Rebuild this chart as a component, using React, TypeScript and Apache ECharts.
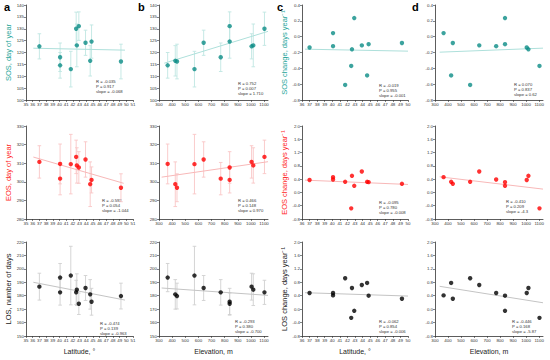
import React, { useEffect, useRef } from 'react';
import * as echarts from 'echarts';

// Station data (11 stations)
const latitude = [37.0, 40.1, 40.1, 41.7, 42.5, 42.9, 42.6, 43.9, 44.8, 44.6, 49.2];
const elevation = [1005, 770, 366, 570, 1103, 838, 1018, 640, 838, 424, 437];

const sos = [122.6, 118.0, 114.6, 113.0, 130.0, 131.1, 123.0, 124.1, 124.6, 116.5, 116.2];
const sosErr = [5.3, 6.0, 5.4, 7.5, 7.0, 6.0, 9.0, 5.3, 7.0, 6.4, 7.3];
const eos = [310.7, 301.7, 309.6, 309.5, 313.4, 307.7, 308.8, 312.0, 301.0, 298.7, 296.8];
const eosErr = [8.7, 8.7, 10.7, 16.0, 9.0, 8.5, 9.5, 9.5, 7.0, 12.0, 7.5];
const los = [186.75, 182.5, 193.5, 195.0, 182.5, 174.0, 184.5, 185.75, 175.5, 181.0, 179.75];
const losErr = [10.0, 9.5, 10.5, 21.8, 9.0, 8.0, 11.8, 9.3, 10.0, 11.0, 9.6];

const sosChange = [-0.137, -0.12, 0.045, -0.61, -0.37, 0.235, -0.16, -0.11, -0.095, -0.49, -0.08];
const eosChange = [0.374, 0.39, 0.46, 0.32, -0.48, 0.2, 0.5, 0.63, 0.31, 0.32, 0.26];
const losChange = [0.48, 0.48, 0.41, 0.92, -0.26, -0.05, 0.63, 0.72, 0.4, 0.78, 0.31];

// Regression line end points
const sosLatFit = [[36.1, 121.8], [49.8, 121.0]];
const sosElevFit = [[340, 115.5], [1130, 128.9]];
const sosChgLatFit = [[36.4, -0.158], [50, -0.183]];
const sosChgElevFit = [[336, -0.196], [1130, -0.145]];
const eosLatFit = [[36.1, 313.3], [49.6, 299.2]];
const eosElevFit = [[320, 302.5], [1130, 310.8]];
const eosChgLatFit = [[36.4, 0.37], [50, 0.24]];
const eosChgElevFit = [[336, 0.47], [1130, 0.1]];
const losLatFit = [[36.1, 190.0], [49.8, 176.75]];
const losElevFit = [[320, 185.75], [1130, 180.25]];
const losChgLatFit = [[36.4, 0.49], [50, 0.39]];
const losChgElevFit = [[336, 0.68], [1130, 0.19]];

const stats = [
  ['R = -0.035', 'P = 0.917', 'slope = -0.068'],
  ['R = 0.752', 'P = 0.007', 'slope = 1.710'],
  ['R = -0.019', 'P = 0.955', 'slope = -0.001'],
  ['R = 0.070', 'P = 0.837', 'slope = 0.62'],
  ['R = -0.592', 'P = 0.054', 'slope = -1.044'],
  ['R = 0.466', 'P = 0.148', 'slope = 0.970'],
  ['R = -0.095', 'P = 0.780', 'slope = -0.008'],
  ['R = -0.410', 'P = 0.209', 'slope = -4.3'],
  ['R = -0.474', 'P = 0.139', 'slope = -0.963'],
  ['R = -0.293', 'P = 0.380', 'slope = -0.700'],
  ['R = -0.062', 'P = 0.854', 'slope = -0.006'],
  ['R = -0.446', 'P = 0.168', 'slope = -5.87'],
];

const elevTicks = [300, 400, 500, 600, 700, 800, 900, 1000, 1100];

const FONT = 'Liberation Sans, Arial, sans-serif';

const palette = [
  { pt: '#0b8c86', err: '#bfe6e2', line: '#aee0db', title: '#26a69a' },
  { pt: '#ff0000', err: '#f9c6c6', line: '#f8b8b8', title: '#ff1f1f' },
  { pt: '#000000', err: '#d0d0d0', line: '#c4c4c4', title: '#222222' },
];

const cols = [
  { left: 26, width: 107 },
  { left: 159, width: 109 },
  { left: 302, width: 106 },
  { left: 435, width: 108 },
];
const rows = [
  { top: 5, height: 95 },
  { top: 126, height: 93 },
  { top: 242, height: 94 },
];

const annPos = [
  [96, 79], [238, 81], [379, 83], [514, 82],
  [102, 198], [238, 198], [379, 200], [506, 199],
  [100, 321], [235, 319], [379, 319], [512, 319],
];

function buildOption() {
  const grids: any[] = [];
  const xAxes: any[] = [];
  const yAxes: any[] = [];
  const series: any[] = [];
  const graphics: any[] = [];

  const rowVals = [
    [sos, sos, sosChange, sosChange],
    [eos, eos, eosChange, eosChange],
    [los, los, losChange, losChange],
  ];
  const rowErr = [sosErr, eosErr, losErr];
  const fits = [
    [sosLatFit, sosElevFit, sosChgLatFit, sosChgElevFit],
    [eosLatFit, eosElevFit, eosChgLatFit, eosChgElevFit],
    [losLatFit, losElevFit, losChgLatFit, losChgElevFit],
  ];
  const yTitlesA = ['SOS, day of year', 'EOS, day of year', 'LOS, number of days'];
  const yTitlesC = ['SOS change, days year\u207B\u00B9', 'EOS change, days year\u207B\u00B9', 'LOS change, days year\u207B\u00B9'];

  for (let r = 0; r < 3; r++) {
    for (let c = 0; c < 4; c++) {
      const idx = r * 4 + c;
      const pal = palette[r];
      grids.push({ left: cols[c].left, top: rows[r].top, width: cols[c].width, height: rows[r].height, containLabel: false });

      const isElev = c === 1 || c === 3;
      const xs = isElev ? elevation : latitude;
      const axisLine = { show: true, onZero: false, lineStyle: { color: '#333', width: 0.8 } };
      const axisTick = { show: true, inside: false, length: 2, lineStyle: { color: '#333', width: 0.6 } };
      const labelBase = { fontSize: 4.4, color: '#333', fontFamily: FONT, margin: 2.5 };

      const xAxis: any = {
        type: 'value', gridIndex: idx, splitLine: { show: false }, axisLine, axisTick,
        axisLabel: { ...labelBase, interval: 0, hideOverlap: false, formatter: (v: number) => String(v) },
      };
      if (c === 0) Object.assign(xAxis, { min: 35, max: 51, interval: 1 });
      else if (c === 2) Object.assign(xAxis, { min: 36, max: 50, interval: 1 });
      else {
        Object.assign(xAxis, { min: 300, max: 1130, interval: 100 });
        xAxis.axisLabel.customValues = elevTicks;
        xAxis.axisTick = { ...axisTick, customValues: elevTicks };
      }
      if (r === 2) {
        xAxis.name = isElev ? 'Elevation, m' : 'Latitude, \u00B0';
        xAxis.nameLocation = 'middle';
        xAxis.nameGap = 12;
        xAxis.nameTextStyle = { fontSize: 7, color: '#222', fontFamily: FONT };
      }
      xAxes.push(xAxis);

      const yAxis: any = {
        type: 'value', gridIndex: idx, splitLine: { show: false }, axisLine, axisTick,
        axisLabel: { ...labelBase, margin: 2 },
      };
      if (c < 2) {
        if (r === 0) Object.assign(yAxis, { min: 100, max: 140, interval: 5 });
        if (r === 1) Object.assign(yAxis, { min: 280, max: 330, interval: 10 });
        if (r === 2) Object.assign(yAxis, { min: 150, max: 220, interval: 10 });
      } else {
        if (r === 0) Object.assign(yAxis, { min: -0.8, max: 0.4, interval: 0.2 });
        else Object.assign(yAxis, { min: -0.8, max: 2.0, interval: 0.4 });
        yAxis.axisLabel.formatter = (v: number) => v.toFixed(1);
      }
      if (c === 0 || c === 2) {
        yAxis.name = c === 0 ? yTitlesA[r] : yTitlesC[r];
        yAxis.nameLocation = 'middle';
        yAxis.nameGap = c === 0 ? 12 : 11;
        yAxis.nameTextStyle = { fontSize: 7.5, color: pal.title, fontFamily: FONT };
      }
      yAxes.push(yAxis);

      const ys = rowVals[r][c];
      if (c < 2) {
        const errs = rowErr[r];
        series.push({
          type: 'custom', xAxisIndex: idx, yAxisIndex: idx, silent: true, z: 1,
          data: xs.map((x, i) => [x, ys[i], errs[i]]),
          encode: { x: 0, y: 1 },
          renderItem: (params: any, api: any) => {
            const x = api.value(0), y = api.value(1), e = api.value(2);
            const t = api.coord([x, y + e]);
            const b = api.coord([x, y - e]);
            const cap = 1.8;
            const st = { stroke: pal.err, lineWidth: 0.9, fill: 'none' };
            return {
              type: 'group',
              children: [
                { type: 'line', shape: { x1: t[0], y1: t[1], x2: b[0], y2: b[1] }, style: st },
                { type: 'line', shape: { x1: t[0] - cap, y1: t[1], x2: t[0] + cap, y2: t[1] }, style: st },
                { type: 'line', shape: { x1: b[0] - cap, y1: b[1], x2: b[0] + cap, y2: b[1] }, style: st },
              ],
            };
          },
        });
      }
      series.push({
        type: 'line', xAxisIndex: idx, yAxisIndex: idx, data: fits[r][c], symbol: 'none', silent: true, z: 2,
        lineStyle: { color: pal.line, width: 1 },
      });
      series.push({
        type: 'scatter', xAxisIndex: idx, yAxisIndex: idx, z: 3,
        data: xs.map((x, i) => [x, ys[i]]),
        symbol: 'circle', symbolSize: 4.4,
        itemStyle: { color: pal.pt },
      });

      const [ax, ay] = annPos[idx];
      graphics.push({
        type: 'text', left: ax, top: ay, silent: true,
        style: { text: stats[idx].join('\n'), fontSize: 4.2, lineHeight: 4.8, fill: '#333', fontFamily: FONT },
      });
    }
  }

  const letters = [['a', 4], ['b', 138], ['c', 277], ['d', 412]];
  letters.forEach(([t, x]) => {
    graphics.push({
      type: 'text', left: x as number, top: 1, silent: true,
      style: { text: t as string, fontSize: 11, fontWeight: 'bold', fill: '#000', fontFamily: FONT },
    });
  });

  return {
    animation: false,
    backgroundColor: '#ffffff',
    grid: grids,
    xAxis: xAxes,
    yAxis: yAxes,
    series,
    graphic: graphics,
  };
}

export default function App() {
  const ref = useRef<HTMLDivElement>(null);
  useEffect(() => {
    const chart = echarts.init(ref.current!, null, { renderer: 'svg' });
    chart.setOption(buildOption() as any);
    return () => chart.dispose();
  }, []);
  return (
    <div
      ref={ref}
      style={{ position: 'fixed', left: 0, top: 0, width: 550, height: 360, background: '#fff' }}
    />
  );
}
